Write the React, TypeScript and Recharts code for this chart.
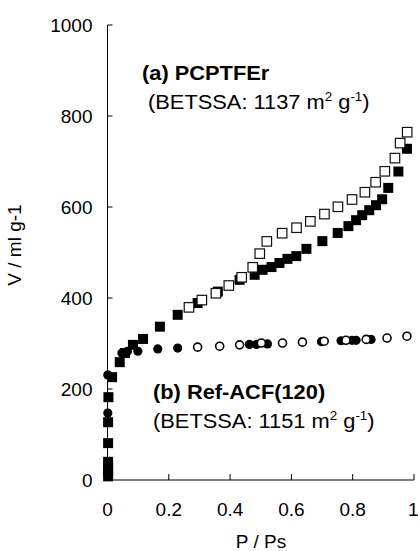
import React from 'react'
import { ScatterChart, Scatter, XAxis, YAxis } from 'recharts'

// PCPTFEr, adsorption branch (filled squares)
const pcpAds = [
  [0.002, 8], [0.002, 18], [0.002, 28], [0.002, 40], [0.002, 81], [0.002, 127],
  [0.003, 182], [0.015, 226], [0.04, 259], [0.057, 279], [0.083, 297], [0.116, 310],
  [0.171, 337], [0.229, 363], [0.294, 389], [0.36, 414], [0.431, 440], [0.48, 451],
  [0.506, 462], [0.535, 468], [0.561, 477], [0.587, 486], [0.616, 492], [0.649, 508],
  [0.701, 525], [0.751, 543], [0.786, 558], [0.811, 571], [0.831, 582], [0.854, 593],
  [0.876, 604], [0.896, 617], [0.916, 642], [0.949, 678], [0.977, 728],
]

// PCPTFEr, desorption branch (open squares)
const pcpDes = [
  [0.265, 380], [0.307, 396], [0.353, 411], [0.395, 428], [0.437, 446], [0.473, 468],
  [0.496, 498], [0.519, 525], [0.569, 543], [0.616, 555], [0.661, 569], [0.707, 585],
  [0.751, 601], [0.797, 617], [0.839, 633], [0.874, 655], [0.904, 679], [0.937, 708],
  [0.954, 741], [0.977, 765],
]

// Ref-ACF(120), adsorption (filled circles)
const acfAds = [
  [0.001, 147], [0.001, 231], [0.047, 279], [0.065, 283], [0.099, 283], [0.164, 288],
  [0.229, 290], [0.463, 298], [0.486, 298], [0.522, 299], [0.698, 304], [0.762, 306],
  [0.798, 307], [0.811, 307], [0.86, 309],
]

// Ref-ACF(120), desorption (open circles)
const acfDes = [
  [0.294, 292], [0.366, 294], [0.431, 297], [0.502, 301], [0.571, 301], [0.636, 303],
  [0.707, 305], [0.778, 307], [0.844, 309], [0.912, 312], [0.977, 316],
]

const xTicks = [0, 0.2, 0.4, 0.6, 0.8, 1]
const yTicks = [0, 200, 400, 600, 800, 1000]

const toPts = (arr: number[][]) => arr.map(([x, y]) => ({ x, y }))

const FONT = '"Liberation Sans", Arial, sans-serif'
const tickStyle = { fontSize: 19, fill: '#000', fontFamily: FONT }

const FilledSquare = (p: any) => (
  <rect x={p.cx - 5} y={p.cy - 5} width={10} height={10} fill="#000" />
)
const OpenSquare = (p: any) => (
  <rect x={p.cx - 4.5} y={p.cy - 4.5} width={9.5} height={9.5} fill="#fff" stroke="#111" strokeWidth={1.2} />
)
const FilledCircle = (p: any) => <circle cx={p.cx} cy={p.cy} r={4.6} fill="#000" />
const OpenCircle = (p: any) => (
  <circle cx={p.cx} cy={p.cy} r={4} fill="#fff" stroke="#000" strokeWidth={1.6} />
)

const Sup = ({ children }: { children: string }) => (
  <tspan fontSize={12} dy={-8}>{children}</tspan>
)
const Down = ({ children }: { children: string }) => <tspan dy={8}>{children}</tspan>

// annotation text in the source figure is slightly wider than tall
const Note = ({ x, y, bold, children }: { x: number; y: number; bold?: boolean; children: any }) => (
  <text
    x={0}
    y={0}
    fontSize={19.5}
    fontWeight={bold ? 'bold' : 'normal'}
    transform={`translate(${x} ${y}) scale(1.12 1)`}
  >
    {children}
  </text>
)

export default function App() {
  return (
    <div style={{ position: 'absolute', left: 0, top: 0, width: 418, height: 551, background: '#fff' }}>
      <ScatterChart width={418} height={551} margin={{ top: 25, right: 4, bottom: 31, left: 47.5 }}>
        <XAxis
          type="number"
          dataKey="x"
          domain={[0, 1]}
          ticks={xTicks}
          tickFormatter={(v: number) => String(v)}
          tick={tickStyle}
          tickSize={-6}
          tickMargin={29}
          height={40}
          stroke="#000"
        />
        <XAxis xAxisId="top" orientation="top" type="number" domain={[0, 1]} tick={false} tickLine={false} height={0} stroke="#000" />
        <YAxis
          type="number"
          dataKey="y"
          domain={[0, 1000]}
          ticks={yTicks}
          tick={tickStyle}
          tickSize={-5}
          tickMargin={20}
          width={60}
          stroke="#000"
        />
        <YAxis yAxisId="right" orientation="right" type="number" domain={[0, 1000]} tick={false} tickLine={false} width={0} stroke="#000" />
        <Scatter data={toPts(pcpAds)} shape={FilledSquare} isAnimationActive={false} />
        <Scatter data={toPts(pcpDes)} shape={OpenSquare} isAnimationActive={false} />
        <Scatter data={toPts(acfAds)} shape={FilledCircle} isAnimationActive={false} />
        <Scatter data={toPts(acfDes)} shape={OpenCircle} isAnimationActive={false} />
      </ScatterChart>
      <svg width={418} height={551} style={{ position: 'absolute', left: 0, top: 0, pointerEvents: 'none' }} fontFamily={FONT}>
        <Note x={142} y={80} bold>(a) PCPTFEr</Note>
        <Note x={148} y={109}>
          (BETSSA: 1137 m<Sup>2</Sup><Down> g</Down><Sup>-1</Sup><Down>)</Down>
        </Note>
        <Note x={153} y={399} bold>(b) Ref-ACF(120)</Note>
        <Note x={153} y={428}>
          (BETSSA: 1151 m<Sup>2</Sup><Down> g</Down><Sup>-1</Sup><Down>)</Down>
        </Note>
        <text x={261} y={548} fontSize={19} textAnchor="middle">P / Ps</text>
        <text x={21} y={245} fontSize={19} textAnchor="middle" transform="rotate(-90 21 245)">V / ml g-1</text>
      </svg>
    </div>
  )
}
